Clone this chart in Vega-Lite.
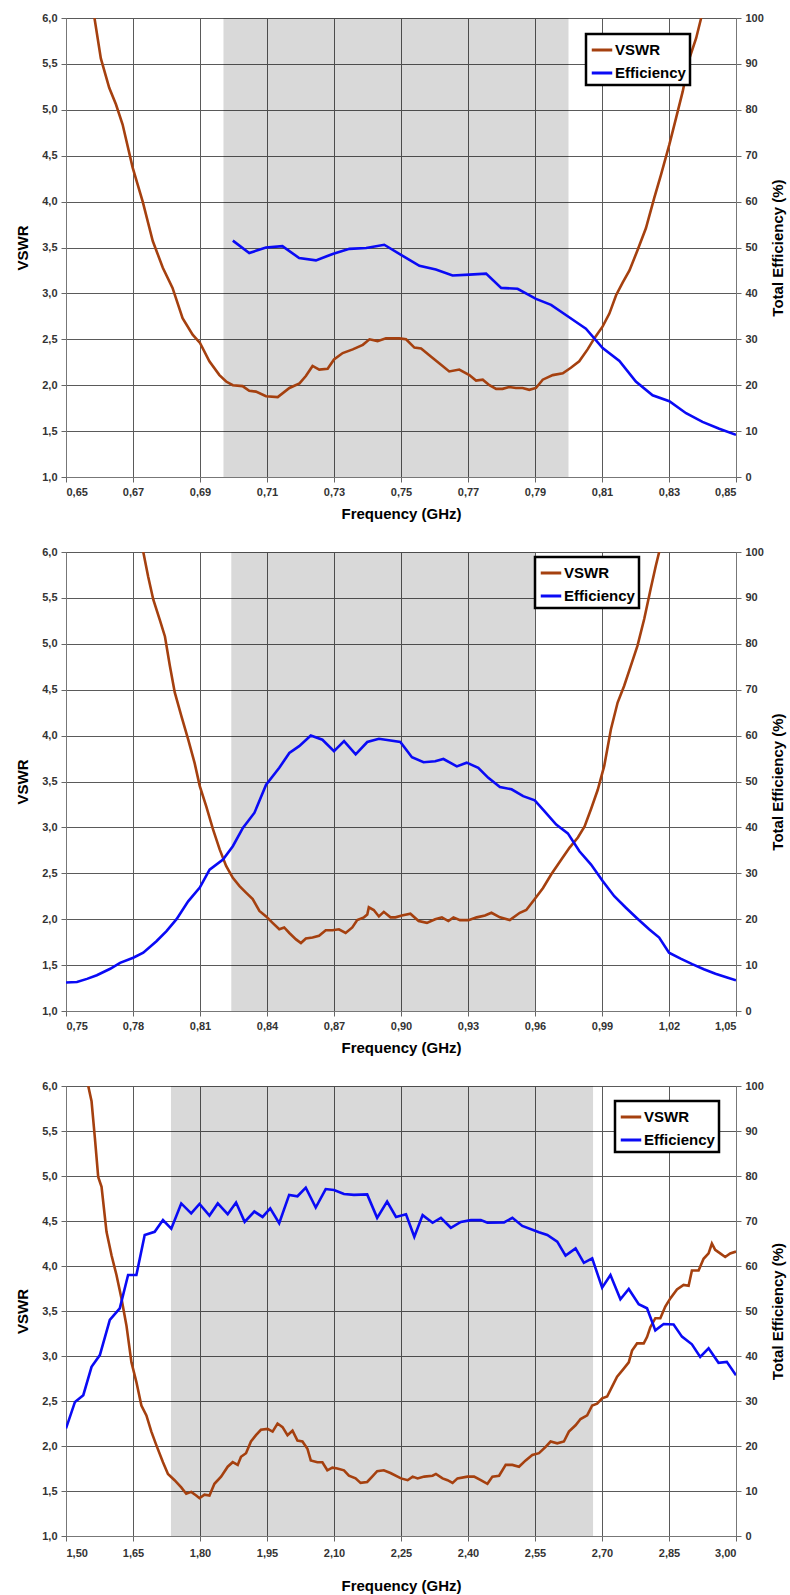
{
  "$schema": "https://vega.github.io/schema/vega-lite/v6.json",
  "background": "white",
  "padding": {"left": 15, "top": 11, "right": 1, "bottom": 2},
  "spacing": 75,
  "bounds": "flush",
  "datasets": {
    "bands": [
      {"p": 1, "f0": 0.697, "f1": 0.80},
      {"p": 2, "f0": 0.824, "f1": 0.96},
      {"p": 3, "f0": 1.735, "f1": 2.68}
    ],
    "curves": [
      {"p":1,"s":"VSWR","f":0.6585,"v":6.0},{"p":1,"s":"VSWR","f":0.6604,"v":5.56},{"p":1,"s":"VSWR","f":0.6629,"v":5.24},{"p":1,"s":"VSWR","f":0.6649,"v":5.06},{"p":1,"s":"VSWR","f":0.6669,"v":4.84},{"p":1,"s":"VSWR","f":0.6699,"v":4.37},{"p":1,"s":"VSWR","f":0.6729,"v":4.0},{"p":1,"s":"VSWR","f":0.6759,"v":3.57},{"p":1,"s":"VSWR","f":0.6789,"v":3.28},{"p":1,"s":"VSWR","f":0.6818,"v":3.06},{"p":1,"s":"VSWR","f":0.6848,"v":2.73},{"p":1,"s":"VSWR","f":0.6878,"v":2.55},{"p":1,"s":"VSWR","f":0.69,"v":2.46},{"p":1,"s":"VSWR","f":0.6928,"v":2.26},{"p":1,"s":"VSWR","f":0.6958,"v":2.11},{"p":1,"s":"VSWR","f":0.6978,"v":2.04},{"p":1,"s":"VSWR","f":0.6998,"v":2.0},{"p":1,"s":"VSWR","f":0.7027,"v":1.99},{"p":1,"s":"VSWR","f":0.7047,"v":1.94},{"p":1,"s":"VSWR","f":0.7067,"v":1.93},{"p":1,"s":"VSWR","f":0.7097,"v":1.88},{"p":1,"s":"VSWR","f":0.7132,"v":1.87},{"p":1,"s":"VSWR","f":0.7167,"v":1.97},{"p":1,"s":"VSWR","f":0.7197,"v":2.02},{"p":1,"s":"VSWR","f":0.7216,"v":2.1},{"p":1,"s":"VSWR","f":0.7236,"v":2.21},{"p":1,"s":"VSWR","f":0.7256,"v":2.17},{"p":1,"s":"VSWR","f":0.7281,"v":2.18},{"p":1,"s":"VSWR","f":0.73,"v":2.28},{"p":1,"s":"VSWR","f":0.7326,"v":2.35},{"p":1,"s":"VSWR","f":0.7356,"v":2.39},{"p":1,"s":"VSWR","f":0.7386,"v":2.44},{"p":1,"s":"VSWR","f":0.7406,"v":2.5},{"p":1,"s":"VSWR","f":0.743,"v":2.48},{"p":1,"s":"VSWR","f":0.7455,"v":2.51},{"p":1,"s":"VSWR","f":0.7495,"v":2.51},{"p":1,"s":"VSWR","f":0.7515,"v":2.5},{"p":1,"s":"VSWR","f":0.754,"v":2.41},{"p":1,"s":"VSWR","f":0.756,"v":2.4},{"p":1,"s":"VSWR","f":0.759,"v":2.31},{"p":1,"s":"VSWR","f":0.7614,"v":2.24},{"p":1,"s":"VSWR","f":0.7644,"v":2.15},{"p":1,"s":"VSWR","f":0.7674,"v":2.17},{"p":1,"s":"VSWR","f":0.7704,"v":2.11},{"p":1,"s":"VSWR","f":0.7724,"v":2.05},{"p":1,"s":"VSWR","f":0.7744,"v":2.06},{"p":1,"s":"VSWR","f":0.7764,"v":2.0},{"p":1,"s":"VSWR","f":0.7784,"v":1.96},{"p":1,"s":"VSWR","f":0.7803,"v":1.96},{"p":1,"s":"VSWR","f":0.7823,"v":1.98},{"p":1,"s":"VSWR","f":0.7843,"v":1.97},{"p":1,"s":"VSWR","f":0.7863,"v":1.97},{"p":1,"s":"VSWR","f":0.7883,"v":1.95},{"p":1,"s":"VSWR","f":0.7903,"v":1.97},{"p":1,"s":"VSWR","f":0.7923,"v":2.06},{"p":1,"s":"VSWR","f":0.7953,"v":2.11},{"p":1,"s":"VSWR","f":0.7983,"v":2.13},{"p":1,"s":"VSWR","f":0.8007,"v":2.19},{"p":1,"s":"VSWR","f":0.8032,"v":2.26},{"p":1,"s":"VSWR","f":0.8057,"v":2.39},{"p":1,"s":"VSWR","f":0.8077,"v":2.51},{"p":1,"s":"VSWR","f":0.8102,"v":2.64},{"p":1,"s":"VSWR","f":0.8122,"v":2.78},{"p":1,"s":"VSWR","f":0.8142,"v":2.98},{"p":1,"s":"VSWR","f":0.8162,"v":3.12},{"p":1,"s":"VSWR","f":0.8182,"v":3.25},{"p":1,"s":"VSWR","f":0.8206,"v":3.47},{"p":1,"s":"VSWR","f":0.8231,"v":3.71},{"p":1,"s":"VSWR","f":0.8256,"v":4.04},{"p":1,"s":"VSWR","f":0.8276,"v":4.29},{"p":1,"s":"VSWR","f":0.8301,"v":4.62},{"p":1,"s":"VSWR","f":0.8321,"v":4.91},{"p":1,"s":"VSWR","f":0.8341,"v":5.2},{"p":1,"s":"VSWR","f":0.8361,"v":5.56},{"p":1,"s":"VSWR","f":0.8381,"v":5.78},{"p":1,"s":"VSWR","f":0.8396,"v":6.0},
      {"p":1,"s":"Efficiency","f":0.6998,"v":51.5},{"p":1,"s":"Efficiency","f":0.7047,"v":48.8},{"p":1,"s":"Efficiency","f":0.7097,"v":50.0},{"p":1,"s":"Efficiency","f":0.7146,"v":50.3},{"p":1,"s":"Efficiency","f":0.7196,"v":47.7},{"p":1,"s":"Efficiency","f":0.7246,"v":47.2},{"p":1,"s":"Efficiency","f":0.7296,"v":48.6},{"p":1,"s":"Efficiency","f":0.7346,"v":49.7},{"p":1,"s":"Efficiency","f":0.7396,"v":49.9},{"p":1,"s":"Efficiency","f":0.745,"v":50.6},{"p":1,"s":"Efficiency","f":0.75,"v":48.4},{"p":1,"s":"Efficiency","f":0.7555,"v":46.0},{"p":1,"s":"Efficiency","f":0.7604,"v":45.2},{"p":1,"s":"Efficiency","f":0.7654,"v":43.9},{"p":1,"s":"Efficiency","f":0.7704,"v":44.1},{"p":1,"s":"Efficiency","f":0.7754,"v":44.3},{"p":1,"s":"Efficiency","f":0.7799,"v":41.2},{"p":1,"s":"Efficiency","f":0.7848,"v":41.0},{"p":1,"s":"Efficiency","f":0.7903,"v":38.8},{"p":1,"s":"Efficiency","f":0.7948,"v":37.5},{"p":1,"s":"Efficiency","f":0.8002,"v":34.8},{"p":1,"s":"Efficiency","f":0.8052,"v":32.3},{"p":1,"s":"Efficiency","f":0.8102,"v":28.1},{"p":1,"s":"Efficiency","f":0.8152,"v":25.3},{"p":1,"s":"Efficiency","f":0.8201,"v":20.8},{"p":1,"s":"Efficiency","f":0.8251,"v":17.8},{"p":1,"s":"Efficiency","f":0.8301,"v":16.5},{"p":1,"s":"Efficiency","f":0.8351,"v":13.9},{"p":1,"s":"Efficiency","f":0.84,"v":12.0},{"p":1,"s":"Efficiency","f":0.845,"v":10.5},{"p":1,"s":"Efficiency","f":0.85,"v":9.2},
      {"p":2,"s":"VSWR","f":0.7846,"v":6.0},{"p":2,"s":"VSWR","f":0.7868,"v":5.73},{"p":2,"s":"VSWR","f":0.7891,"v":5.48},{"p":2,"s":"VSWR","f":0.792,"v":5.26},{"p":2,"s":"VSWR","f":0.7943,"v":5.08},{"p":2,"s":"VSWR","f":0.7965,"v":4.76},{"p":2,"s":"VSWR","f":0.7987,"v":4.47},{"p":2,"s":"VSWR","f":0.8017,"v":4.21},{"p":2,"s":"VSWR","f":0.8047,"v":3.96},{"p":2,"s":"VSWR","f":0.8076,"v":3.7},{"p":2,"s":"VSWR","f":0.8099,"v":3.45},{"p":2,"s":"VSWR","f":0.8128,"v":3.23},{"p":2,"s":"VSWR","f":0.8158,"v":2.98},{"p":2,"s":"VSWR","f":0.8188,"v":2.76},{"p":2,"s":"VSWR","f":0.8217,"v":2.58},{"p":2,"s":"VSWR","f":0.8247,"v":2.45},{"p":2,"s":"VSWR","f":0.8277,"v":2.36},{"p":2,"s":"VSWR","f":0.8306,"v":2.29},{"p":2,"s":"VSWR","f":0.8336,"v":2.22},{"p":2,"s":"VSWR","f":0.8366,"v":2.09},{"p":2,"s":"VSWR","f":0.8396,"v":2.03},{"p":2,"s":"VSWR","f":0.8425,"v":1.96},{"p":2,"s":"VSWR","f":0.8455,"v":1.89},{"p":2,"s":"VSWR","f":0.8477,"v":1.91},{"p":2,"s":"VSWR","f":0.85,"v":1.85},{"p":2,"s":"VSWR","f":0.853,"v":1.78},{"p":2,"s":"VSWR","f":0.8552,"v":1.74},{"p":2,"s":"VSWR","f":0.8574,"v":1.79},{"p":2,"s":"VSWR","f":0.8604,"v":1.8},{"p":2,"s":"VSWR","f":0.8633,"v":1.82},{"p":2,"s":"VSWR","f":0.8663,"v":1.88},{"p":2,"s":"VSWR","f":0.8693,"v":1.88},{"p":2,"s":"VSWR","f":0.8722,"v":1.89},{"p":2,"s":"VSWR","f":0.8752,"v":1.85},{"p":2,"s":"VSWR","f":0.8782,"v":1.91},{"p":2,"s":"VSWR","f":0.8804,"v":1.99},{"p":2,"s":"VSWR","f":0.8834,"v":2.02},{"p":2,"s":"VSWR","f":0.8849,"v":2.05},{"p":2,"s":"VSWR","f":0.8856,"v":2.13},{"p":2,"s":"VSWR","f":0.8878,"v":2.1},{"p":2,"s":"VSWR","f":0.8901,"v":2.03},{"p":2,"s":"VSWR","f":0.8923,"v":2.08},{"p":2,"s":"VSWR","f":0.8953,"v":2.02},{"p":2,"s":"VSWR","f":0.8975,"v":2.02},{"p":2,"s":"VSWR","f":0.9004,"v":2.04},{"p":2,"s":"VSWR","f":0.9042,"v":2.06},{"p":2,"s":"VSWR","f":0.9079,"v":1.98},{"p":2,"s":"VSWR","f":0.9116,"v":1.96},{"p":2,"s":"VSWR","f":0.9153,"v":2.0},{"p":2,"s":"VSWR","f":0.9183,"v":2.02},{"p":2,"s":"VSWR","f":0.9212,"v":1.98},{"p":2,"s":"VSWR","f":0.9235,"v":2.02},{"p":2,"s":"VSWR","f":0.9264,"v":1.99},{"p":2,"s":"VSWR","f":0.9302,"v":1.99},{"p":2,"s":"VSWR","f":0.9339,"v":2.02},{"p":2,"s":"VSWR","f":0.9376,"v":2.04},{"p":2,"s":"VSWR","f":0.9405,"v":2.07},{"p":2,"s":"VSWR","f":0.9443,"v":2.02},{"p":2,"s":"VSWR","f":0.9487,"v":1.99},{"p":2,"s":"VSWR","f":0.9532,"v":2.07},{"p":2,"s":"VSWR","f":0.9561,"v":2.1},{"p":2,"s":"VSWR","f":0.9599,"v":2.22},{"p":2,"s":"VSWR","f":0.9636,"v":2.34},{"p":2,"s":"VSWR","f":0.9673,"v":2.49},{"p":2,"s":"VSWR","f":0.9718,"v":2.65},{"p":2,"s":"VSWR","f":0.9755,"v":2.78},{"p":2,"s":"VSWR","f":0.9792,"v":2.89},{"p":2,"s":"VSWR","f":0.9822,"v":3.01},{"p":2,"s":"VSWR","f":0.9851,"v":3.2},{"p":2,"s":"VSWR","f":0.9881,"v":3.41},{"p":2,"s":"VSWR","f":0.991,"v":3.67},{"p":2,"s":"VSWR","f":0.994,"v":4.07},{"p":2,"s":"VSWR","f":0.997,"v":4.36},{"p":2,"s":"VSWR","f":0.9999,"v":4.54},{"p":2,"s":"VSWR","f":1.0029,"v":4.76},{"p":2,"s":"VSWR","f":1.0059,"v":4.98},{"p":2,"s":"VSWR","f":1.0089,"v":5.27},{"p":2,"s":"VSWR","f":1.0118,"v":5.6},{"p":2,"s":"VSWR","f":1.0141,"v":5.85},{"p":2,"s":"VSWR","f":1.0156,"v":6.0},
      {"p":2,"s":"Efficiency","f":0.75,"v":6.2},{"p":2,"s":"Efficiency","f":0.7549,"v":6.3},{"p":2,"s":"Efficiency","f":0.7594,"v":7.0},{"p":2,"s":"Efficiency","f":0.7638,"v":7.8},{"p":2,"s":"Efficiency","f":0.7698,"v":9.2},{"p":2,"s":"Efficiency","f":0.7742,"v":10.5},{"p":2,"s":"Efficiency","f":0.7801,"v":11.6},{"p":2,"s":"Efficiency","f":0.7846,"v":12.7},{"p":2,"s":"Efficiency","f":0.7905,"v":15.2},{"p":2,"s":"Efficiency","f":0.795,"v":17.4},{"p":2,"s":"Efficiency","f":0.7995,"v":20.0},{"p":2,"s":"Efficiency","f":0.8047,"v":23.9},{"p":2,"s":"Efficiency","f":0.8099,"v":26.9},{"p":2,"s":"Efficiency","f":0.8143,"v":30.8},{"p":2,"s":"Efficiency","f":0.8203,"v":33.0},{"p":2,"s":"Efficiency","f":0.8247,"v":35.9},{"p":2,"s":"Efficiency","f":0.8292,"v":39.9},{"p":2,"s":"Efficiency","f":0.8344,"v":43.2},{"p":2,"s":"Efficiency","f":0.8396,"v":49.3},{"p":2,"s":"Efficiency","f":0.8455,"v":53.0},{"p":2,"s":"Efficiency","f":0.85,"v":56.2},{"p":2,"s":"Efficiency","f":0.8544,"v":57.7},{"p":2,"s":"Efficiency","f":0.8596,"v":60.0},{"p":2,"s":"Efficiency","f":0.8648,"v":59.1},{"p":2,"s":"Efficiency","f":0.87,"v":56.6},{"p":2,"s":"Efficiency","f":0.8745,"v":58.8},{"p":2,"s":"Efficiency","f":0.8797,"v":55.9},{"p":2,"s":"Efficiency","f":0.8849,"v":58.6},{"p":2,"s":"Efficiency","f":0.8901,"v":59.3},{"p":2,"s":"Efficiency","f":0.8997,"v":58.6},{"p":2,"s":"Efficiency","f":0.9049,"v":55.3},{"p":2,"s":"Efficiency","f":0.9101,"v":54.2},{"p":2,"s":"Efficiency","f":0.9153,"v":54.4},{"p":2,"s":"Efficiency","f":0.919,"v":54.9},{"p":2,"s":"Efficiency","f":0.925,"v":53.3},{"p":2,"s":"Efficiency","f":0.9294,"v":54.1},{"p":2,"s":"Efficiency","f":0.9346,"v":53.0},{"p":2,"s":"Efficiency","f":0.9391,"v":50.8},{"p":2,"s":"Efficiency","f":0.9443,"v":48.8},{"p":2,"s":"Efficiency","f":0.9495,"v":48.3},{"p":2,"s":"Efficiency","f":0.9547,"v":46.8},{"p":2,"s":"Efficiency","f":0.9599,"v":45.9},{"p":2,"s":"Efficiency","f":0.9643,"v":43.5},{"p":2,"s":"Efficiency","f":0.9695,"v":40.6},{"p":2,"s":"Efficiency","f":0.9747,"v":38.7},{"p":2,"s":"Efficiency","f":0.9799,"v":34.8},{"p":2,"s":"Efficiency","f":0.9851,"v":31.9},{"p":2,"s":"Efficiency","f":0.9903,"v":28.3},{"p":2,"s":"Efficiency","f":0.9955,"v":25.0},{"p":2,"s":"Efficiency","f":1.0007,"v":22.5},{"p":2,"s":"Efficiency","f":1.0059,"v":20.1},{"p":2,"s":"Efficiency","f":1.0111,"v":17.8},{"p":2,"s":"Efficiency","f":1.0156,"v":16.0},{"p":2,"s":"Efficiency","f":1.02,"v":12.7},{"p":2,"s":"Efficiency","f":1.0252,"v":11.4},{"p":2,"s":"Efficiency","f":1.0304,"v":10.2},{"p":2,"s":"Efficiency","f":1.0356,"v":9.1},{"p":2,"s":"Efficiency","f":1.0408,"v":8.1},{"p":2,"s":"Efficiency","f":1.046,"v":7.3},{"p":2,"s":"Efficiency","f":1.05,"v":6.7},
      {"p":3,"s":"VSWR","f":1.5498,"v":6.0},{"p":3,"s":"VSWR","f":1.5572,"v":5.83},{"p":3,"s":"VSWR","f":1.5647,"v":5.42},{"p":3,"s":"VSWR","f":1.5721,"v":4.99},{"p":3,"s":"VSWR","f":1.5796,"v":4.88},{"p":3,"s":"VSWR","f":1.5907,"v":4.38},{"p":3,"s":"VSWR","f":1.6019,"v":4.12},{"p":3,"s":"VSWR","f":1.613,"v":3.9},{"p":3,"s":"VSWR","f":1.6242,"v":3.64},{"p":3,"s":"VSWR","f":1.6353,"v":3.34},{"p":3,"s":"VSWR","f":1.6465,"v":2.93},{"p":3,"s":"VSWR","f":1.6576,"v":2.71},{"p":3,"s":"VSWR","f":1.6688,"v":2.45},{"p":3,"s":"VSWR","f":1.68,"v":2.34},{"p":3,"s":"VSWR","f":1.6911,"v":2.16},{"p":3,"s":"VSWR","f":1.7022,"v":2.01},{"p":3,"s":"VSWR","f":1.7171,"v":1.82},{"p":3,"s":"VSWR","f":1.7283,"v":1.69},{"p":3,"s":"VSWR","f":1.7431,"v":1.62},{"p":3,"s":"VSWR","f":1.758,"v":1.54},{"p":3,"s":"VSWR","f":1.7692,"v":1.47},{"p":3,"s":"VSWR","f":1.7803,"v":1.49},{"p":3,"s":"VSWR","f":1.7915,"v":1.45},{"p":3,"s":"VSWR","f":1.7989,"v":1.42},{"p":3,"s":"VSWR","f":1.81,"v":1.46},{"p":3,"s":"VSWR","f":1.8212,"v":1.45},{"p":3,"s":"VSWR","f":1.8323,"v":1.58},{"p":3,"s":"VSWR","f":1.8472,"v":1.66},{"p":3,"s":"VSWR","f":1.862,"v":1.77},{"p":3,"s":"VSWR","f":1.8732,"v":1.82},{"p":3,"s":"VSWR","f":1.8844,"v":1.79},{"p":3,"s":"VSWR","f":1.8918,"v":1.88},{"p":3,"s":"VSWR","f":1.903,"v":1.92},{"p":3,"s":"VSWR","f":1.9141,"v":2.05},{"p":3,"s":"VSWR","f":1.9253,"v":2.12},{"p":3,"s":"VSWR","f":1.9364,"v":2.18},{"p":3,"s":"VSWR","f":1.9513,"v":2.19},{"p":3,"s":"VSWR","f":1.9625,"v":2.16},{"p":3,"s":"VSWR","f":1.9736,"v":2.25},{"p":3,"s":"VSWR","f":1.9848,"v":2.21},{"p":3,"s":"VSWR","f":1.9959,"v":2.12},{"p":3,"s":"VSWR","f":2.0071,"v":2.17},{"p":3,"s":"VSWR","f":2.0182,"v":2.06},{"p":3,"s":"VSWR","f":2.0294,"v":2.05},{"p":3,"s":"VSWR","f":2.0405,"v":1.97},{"p":3,"s":"VSWR","f":2.048,"v":1.84},{"p":3,"s":"VSWR","f":2.0628,"v":1.82},{"p":3,"s":"VSWR","f":2.074,"v":1.82},{"p":3,"s":"VSWR","f":2.0851,"v":1.73},{"p":3,"s":"VSWR","f":2.0963,"v":1.76},{"p":3,"s":"VSWR","f":2.1074,"v":1.75},{"p":3,"s":"VSWR","f":2.1223,"v":1.73},{"p":3,"s":"VSWR","f":2.1334,"v":1.67},{"p":3,"s":"VSWR","f":2.1483,"v":1.64},{"p":3,"s":"VSWR","f":2.1595,"v":1.59},{"p":3,"s":"VSWR","f":2.1743,"v":1.6},{"p":3,"s":"VSWR","f":2.1855,"v":1.66},{"p":3,"s":"VSWR","f":2.1966,"v":1.72},{"p":3,"s":"VSWR","f":2.2115,"v":1.73},{"p":3,"s":"VSWR","f":2.2264,"v":1.7},{"p":3,"s":"VSWR","f":2.25,"v":1.64},{"p":3,"s":"VSWR","f":2.2649,"v":1.62},{"p":3,"s":"VSWR","f":2.276,"v":1.66},{"p":3,"s":"VSWR","f":2.2872,"v":1.64},{"p":3,"s":"VSWR","f":2.3021,"v":1.66},{"p":3,"s":"VSWR","f":2.3207,"v":1.67},{"p":3,"s":"VSWR","f":2.3282,"v":1.69},{"p":3,"s":"VSWR","f":2.343,"v":1.64},{"p":3,"s":"VSWR","f":2.3542,"v":1.62},{"p":3,"s":"VSWR","f":2.3654,"v":1.59},{"p":3,"s":"VSWR","f":2.3765,"v":1.64},{"p":3,"s":"VSWR","f":2.3989,"v":1.66},{"p":3,"s":"VSWR","f":2.4137,"v":1.66},{"p":3,"s":"VSWR","f":2.4286,"v":1.62},{"p":3,"s":"VSWR","f":2.4435,"v":1.58},{"p":3,"s":"VSWR","f":2.4547,"v":1.66},{"p":3,"s":"VSWR","f":2.4696,"v":1.67},{"p":3,"s":"VSWR","f":2.4844,"v":1.79},{"p":3,"s":"VSWR","f":2.4993,"v":1.79},{"p":3,"s":"VSWR","f":2.5142,"v":1.77},{"p":3,"s":"VSWR","f":2.5291,"v":1.84},{"p":3,"s":"VSWR","f":2.544,"v":1.9},{"p":3,"s":"VSWR","f":2.5589,"v":1.92},{"p":3,"s":"VSWR","f":2.5738,"v":1.99},{"p":3,"s":"VSWR","f":2.5849,"v":2.05},{"p":3,"s":"VSWR","f":2.5998,"v":2.03},{"p":3,"s":"VSWR","f":2.6147,"v":2.05},{"p":3,"s":"VSWR","f":2.6259,"v":2.16},{"p":3,"s":"VSWR","f":2.6408,"v":2.23},{"p":3,"s":"VSWR","f":2.652,"v":2.3},{"p":3,"s":"VSWR","f":2.6668,"v":2.34},{"p":3,"s":"VSWR","f":2.678,"v":2.45},{"p":3,"s":"VSWR","f":2.6891,"v":2.47},{"p":3,"s":"VSWR","f":2.7003,"v":2.53},{"p":3,"s":"VSWR","f":2.7115,"v":2.55},{"p":3,"s":"VSWR","f":2.7226,"v":2.66},{"p":3,"s":"VSWR","f":2.7338,"v":2.77},{"p":3,"s":"VSWR","f":2.7487,"v":2.86},{"p":3,"s":"VSWR","f":2.7599,"v":2.93},{"p":3,"s":"VSWR","f":2.7673,"v":3.06},{"p":3,"s":"VSWR","f":2.7785,"v":3.14},{"p":3,"s":"VSWR","f":2.7934,"v":3.14},{"p":3,"s":"VSWR","f":2.8008,"v":3.21},{"p":3,"s":"VSWR","f":2.8082,"v":3.32},{"p":3,"s":"VSWR","f":2.8194,"v":3.42},{"p":3,"s":"VSWR","f":2.8306,"v":3.42},{"p":3,"s":"VSWR","f":2.8417,"v":3.55},{"p":3,"s":"VSWR","f":2.8529,"v":3.64},{"p":3,"s":"VSWR","f":2.8678,"v":3.74},{"p":3,"s":"VSWR","f":2.8827,"v":3.79},{"p":3,"s":"VSWR","f":2.8939,"v":3.78},{"p":3,"s":"VSWR","f":2.9013,"v":3.95},{"p":3,"s":"VSWR","f":2.9162,"v":3.95},{"p":3,"s":"VSWR","f":2.9274,"v":4.08},{"p":3,"s":"VSWR","f":2.9386,"v":4.14},{"p":3,"s":"VSWR","f":2.946,"v":4.25},{"p":3,"s":"VSWR","f":2.9534,"v":4.18},{"p":3,"s":"VSWR","f":2.9646,"v":4.14},{"p":3,"s":"VSWR","f":2.9758,"v":4.1},{"p":3,"s":"VSWR","f":2.987,"v":4.14},{"p":3,"s":"VSWR","f":3.0,"v":4.16},
      {"p":3,"s":"Efficiency","f":1.5,"v":23.9},{"p":3,"s":"Efficiency","f":1.5201,"v":29.8},{"p":3,"s":"Efficiency","f":1.5387,"v":31.3},{"p":3,"s":"Efficiency","f":1.5572,"v":37.6},{"p":3,"s":"Efficiency","f":1.5758,"v":40.2},{"p":3,"s":"Efficiency","f":1.5981,"v":48.0},{"p":3,"s":"Efficiency","f":1.6204,"v":50.6},{"p":3,"s":"Efficiency","f":1.639,"v":58.0},{"p":3,"s":"Efficiency","f":1.6576,"v":58.0},{"p":3,"s":"Efficiency","f":1.6762,"v":66.9},{"p":3,"s":"Efficiency","f":1.6985,"v":67.6},{"p":3,"s":"Efficiency","f":1.7171,"v":70.2},{"p":3,"s":"Efficiency","f":1.7357,"v":68.3},{"p":3,"s":"Efficiency","f":1.758,"v":73.9},{"p":3,"s":"Efficiency","f":1.7803,"v":71.7},{"p":3,"s":"Efficiency","f":1.7989,"v":73.8},{"p":3,"s":"Efficiency","f":1.8212,"v":71.2},{"p":3,"s":"Efficiency","f":1.8398,"v":73.9},{"p":3,"s":"Efficiency","f":1.862,"v":71.5},{"p":3,"s":"Efficiency","f":1.8807,"v":74.1},{"p":3,"s":"Efficiency","f":1.9,"v":69.8},{"p":3,"s":"Efficiency","f":1.9216,"v":72.1},{"p":3,"s":"Efficiency","f":1.9401,"v":70.9},{"p":3,"s":"Efficiency","f":1.9572,"v":72.8},{"p":3,"s":"Efficiency","f":1.9773,"v":69.5},{"p":3,"s":"Efficiency","f":1.9996,"v":75.8},{"p":3,"s":"Efficiency","f":2.0182,"v":75.5},{"p":3,"s":"Efficiency","f":2.0368,"v":77.4},{"p":3,"s":"Efficiency","f":2.0591,"v":73.0},{"p":3,"s":"Efficiency","f":2.0814,"v":77.1},{"p":3,"s":"Efficiency","f":2.1,"v":76.9},{"p":3,"s":"Efficiency","f":2.1223,"v":76.0},{"p":3,"s":"Efficiency","f":2.1446,"v":75.8},{"p":3,"s":"Efficiency","f":2.1743,"v":75.9},{"p":3,"s":"Efficiency","f":2.1966,"v":70.7},{"p":3,"s":"Efficiency","f":2.2189,"v":74.3},{"p":3,"s":"Efficiency","f":2.2388,"v":70.9},{"p":3,"s":"Efficiency","f":2.2612,"v":71.5},{"p":3,"s":"Efficiency","f":2.2798,"v":66.5},{"p":3,"s":"Efficiency","f":2.2984,"v":71.3},{"p":3,"s":"Efficiency","f":2.3207,"v":69.6},{"p":3,"s":"Efficiency","f":2.3393,"v":70.7},{"p":3,"s":"Efficiency","f":2.3616,"v":68.5},{"p":3,"s":"Efficiency","f":2.384,"v":69.8},{"p":3,"s":"Efficiency","f":2.4063,"v":70.2},{"p":3,"s":"Efficiency","f":2.4286,"v":70.2},{"p":3,"s":"Efficiency","f":2.4435,"v":69.6},{"p":3,"s":"Efficiency","f":2.4807,"v":69.7},{"p":3,"s":"Efficiency","f":2.4993,"v":70.7},{"p":3,"s":"Efficiency","f":2.5216,"v":68.9},{"p":3,"s":"Efficiency","f":2.5589,"v":67.5},{"p":3,"s":"Efficiency","f":2.5775,"v":66.9},{"p":3,"s":"Efficiency","f":2.5998,"v":65.4},{"p":3,"s":"Efficiency","f":2.6184,"v":62.3},{"p":3,"s":"Efficiency","f":2.6408,"v":63.9},{"p":3,"s":"Efficiency","f":2.6594,"v":60.7},{"p":3,"s":"Efficiency","f":2.678,"v":61.7},{"p":3,"s":"Efficiency","f":2.7003,"v":55.2},{"p":3,"s":"Efficiency","f":2.7189,"v":58.0},{"p":3,"s":"Efficiency","f":2.7412,"v":52.6},{"p":3,"s":"Efficiency","f":2.7599,"v":54.9},{"p":3,"s":"Efficiency","f":2.7822,"v":51.5},{"p":3,"s":"Efficiency","f":2.8008,"v":50.6},{"p":3,"s":"Efficiency","f":2.8194,"v":45.7},{"p":3,"s":"Efficiency","f":2.838,"v":47.1},{"p":3,"s":"Efficiency","f":2.8603,"v":47.0},{"p":3,"s":"Efficiency","f":2.879,"v":44.3},{"p":3,"s":"Efficiency","f":2.9013,"v":42.6},{"p":3,"s":"Efficiency","f":2.9199,"v":39.8},{"p":3,"s":"Efficiency","f":2.9386,"v":41.7},{"p":3,"s":"Efficiency","f":2.9609,"v":38.5},{"p":3,"s":"Efficiency","f":2.9794,"v":38.7},{"p":3,"s":"Efficiency","f":3.0,"v":35.7}
    ]
  },
  "vconcat": [
    {
      "width": 670, "height": 459,
      "layer": [
        {"data": {"name": "bands"}, "transform": [{"filter": "datum.p == 1"}],
         "mark": {"type": "rect", "color": "black", "opacity": 0.15},
         "encoding": {
           "x": {"field": "f0", "type": "quantitative", "scale": {"domain": [0.65, 0.85], "nice": false, "zero": false},
                 "axis": {"title": "Frequency (GHz)", "values": [0.65,0.67,0.69,0.71,0.73,0.75,0.77,0.79,0.81,0.83,0.85], "labelExpr": "replace(format(datum.value, '.2f'), '.', ',')", "grid": true, "labelPadding": 4, "titlePadding": 9}},
           "x2": {"field": "f1"}}},
        {"data": {"name": "curves"}, "transform": [{"filter": "datum.p == 1 && datum.s == 'VSWR'"}],
         "mark": {"type": "line", "strokeWidth": 2.6, "clip": true},
         "encoding": {
           "x": {"field": "f", "type": "quantitative"},
           "y": {"field": "v", "type": "quantitative", "scale": {"domain": [1, 6], "nice": false, "zero": false},
                 "axis": {"title": "VSWR", "orient": "left", "values": [1,1.5,2,2.5,3,3.5,4,4.5,5,5.5,6], "labelExpr": "replace(format(datum.value, '.1f'), '.', ',')", "grid": true, "titlePadding": 11}},
           "color": {"field": "s", "type": "nominal", "scale": {"domain": ["VSWR", "Efficiency"], "range": ["#A5400F", "#0A0AF5"]},
                     "legend": {"orient": "none", "legendX": 520, "legendY": 16, "title": null, "encode": {"legend": {"update": {"strokeWidth": {"value": 2.5}}}}}}}},
        {"data": {"name": "curves"}, "transform": [{"filter": "datum.p == 1 && datum.s == 'Efficiency'"}],
         "mark": {"type": "line", "strokeWidth": 2.6, "clip": true},
         "encoding": {
           "x": {"field": "f", "type": "quantitative"},
           "y": {"field": "v", "type": "quantitative", "scale": {"domain": [0, 100], "nice": false},
                 "axis": {"title": "Total Efficiency (%)", "orient": "right", "values": [0,10,20,30,40,50,60,70,80,90,100], "grid": false, "titleAngle": -90, "titlePadding": 22}},
           "color": {"field": "s", "type": "nominal"}}}
      ],
      "resolve": {"scale": {"y": "independent"}}
    },
    {
      "width": 670, "height": 459,
      "layer": [
        {"data": {"name": "bands"}, "transform": [{"filter": "datum.p == 2"}],
         "mark": {"type": "rect", "color": "black", "opacity": 0.15},
         "encoding": {
           "x": {"field": "f0", "type": "quantitative", "scale": {"domain": [0.75, 1.05], "nice": false, "zero": false},
                 "axis": {"title": "Frequency (GHz)", "values": [0.75,0.78,0.81,0.84,0.87,0.90,0.93,0.96,0.99,1.02,1.05], "labelExpr": "replace(format(datum.value, '.2f'), '.', ',')", "grid": true, "labelPadding": 4, "titlePadding": 9}},
           "x2": {"field": "f1"}}},
        {"data": {"name": "curves"}, "transform": [{"filter": "datum.p == 2 && datum.s == 'VSWR'"}],
         "mark": {"type": "line", "strokeWidth": 2.6, "clip": true},
         "encoding": {
           "x": {"field": "f", "type": "quantitative"},
           "y": {"field": "v", "type": "quantitative", "scale": {"domain": [1, 6], "nice": false, "zero": false},
                 "axis": {"title": "VSWR", "orient": "left", "values": [1,1.5,2,2.5,3,3.5,4,4.5,5,5.5,6], "labelExpr": "replace(format(datum.value, '.1f'), '.', ',')", "grid": true, "titlePadding": 11}},
           "color": {"field": "s", "type": "nominal", "scale": {"domain": ["VSWR", "Efficiency"], "range": ["#A5400F", "#0A0AF5"]},
                     "legend": {"orient": "none", "legendX": 469, "legendY": 5, "title": null, "encode": {"legend": {"update": {"strokeWidth": {"value": 2.5}}}}}}}},
        {"data": {"name": "curves"}, "transform": [{"filter": "datum.p == 2 && datum.s == 'Efficiency'"}],
         "mark": {"type": "line", "strokeWidth": 2.6, "clip": true},
         "encoding": {
           "x": {"field": "f", "type": "quantitative"},
           "y": {"field": "v", "type": "quantitative", "scale": {"domain": [0, 100], "nice": false},
                 "axis": {"title": "Total Efficiency (%)", "orient": "right", "values": [0,10,20,30,40,50,60,70,80,90,100], "grid": false, "titleAngle": -90, "titlePadding": 22}},
           "color": {"field": "s", "type": "nominal"}}}
      ],
      "resolve": {"scale": {"y": "independent"}}
    },
    {
      "width": 670, "height": 450,
      "layer": [
        {"data": {"name": "bands"}, "transform": [{"filter": "datum.p == 3"}],
         "mark": {"type": "rect", "color": "black", "opacity": 0.15},
         "encoding": {
           "x": {"field": "f0", "type": "quantitative", "scale": {"domain": [1.5, 3.0], "nice": false, "zero": false},
                 "axis": {"title": "Frequency (GHz)", "values": [1.5,1.65,1.8,1.95,2.1,2.25,2.4,2.55,2.7,2.85,3.0], "labelExpr": "replace(format(datum.value, '.2f'), '.', ',')", "grid": true, "labelPadding": 6, "titlePadding": 20}},
           "x2": {"field": "f1"}}},
        {"data": {"name": "curves"}, "transform": [{"filter": "datum.p == 3 && datum.s == 'VSWR'"}],
         "mark": {"type": "line", "strokeWidth": 2.6, "clip": true},
         "encoding": {
           "x": {"field": "f", "type": "quantitative"},
           "y": {"field": "v", "type": "quantitative", "scale": {"domain": [1, 6], "nice": false, "zero": false},
                 "axis": {"title": "VSWR", "orient": "left", "values": [1,1.5,2,2.5,3,3.5,4,4.5,5,5.5,6], "labelExpr": "replace(format(datum.value, '.1f'), '.', ',')", "grid": true, "titlePadding": 11}},
           "color": {"field": "s", "type": "nominal", "scale": {"domain": ["VSWR", "Efficiency"], "range": ["#A5400F", "#0A0AF5"]},
                     "legend": {"orient": "none", "legendX": 549, "legendY": 15, "title": null, "encode": {"legend": {"update": {"strokeWidth": {"value": 2.5}}}}}}}},
        {"data": {"name": "curves"}, "transform": [{"filter": "datum.p == 3 && datum.s == 'Efficiency'"}],
         "mark": {"type": "line", "strokeWidth": 2.6, "clip": true},
         "encoding": {
           "x": {"field": "f", "type": "quantitative"},
           "y": {"field": "v", "type": "quantitative", "scale": {"domain": [0, 100], "nice": false},
                 "axis": {"title": "Total Efficiency (%)", "orient": "right", "values": [0,10,20,30,40,50,60,70,80,90,100], "grid": false, "titleAngle": -90, "titlePadding": 22}},
           "color": {"field": "s", "type": "nominal"}}}
      ],
      "resolve": {"scale": {"y": "independent"}}
    }
  ],
  "resolve": {"scale": {"x": "independent", "color": "independent"}, "legend": {"color": "independent"}},
  "config": {
    "view": {"stroke": "#666666"},
    "axis": {
      "labelFont": "Liberation Sans", "labelFontWeight": "bold", "labelFontSize": 11, "labelColor": "#333333",
      "titleFont": "Liberation Sans", "titleFontWeight": "bold", "titleFontSize": 15, "titleColor": "#000000",
      "gridColor": "#5a5a5a", "gridWidth": 1, "gridOpacity": 1, "domainColor": "#777777", "tickColor": "#666666", "tickSize": 5, "labelPadding": 4
    },
    "legend": {
      "labelFont": "Liberation Sans", "labelFontSize": 15, "labelFontWeight": "bold", "labelColor": "#000000",
      "symbolType": "stroke", "symbolStrokeWidth": 3, "symbolSize": 420, "labelOffset": 1,
      "strokeColor": "#000000", "fillColor": "#ffffff", "padding": 4, "rowPadding": 3, "cornerRadius": 0
    }
  }
}
